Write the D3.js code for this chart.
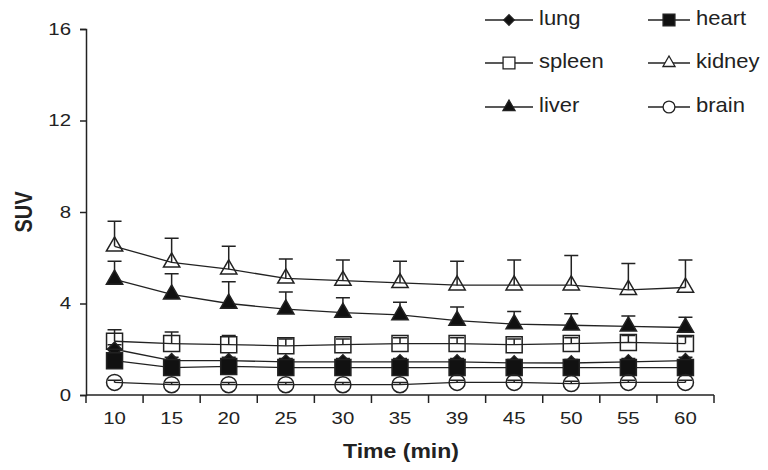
<!DOCTYPE html>
<html>
<head>
<meta charset="utf-8">
<script src="https://cdn.jsdelivr.net/npm/d3@7"></script>
<style>
body { margin: 0; background: #fff; }
text { font-family: "Liberation Sans", Arial, sans-serif; fill: #222; }
</style>
</head>
<body>
<script>
// time points (categorical x axis)
var times = ["10", "15", "20", "25", "30", "35", "39", "45", "50", "55", "60"];
var yTicks = [0, 4, 8, 12, 16];

// mean SUV per organ
var lung   = [2.0, 1.5, 1.5, 1.45, 1.45, 1.45, 1.45, 1.4, 1.4, 1.45, 1.5];
var heart  = [1.5, 1.2, 1.25, 1.2, 1.2, 1.2, 1.2, 1.2, 1.2, 1.2, 1.2];
var spleen = [2.35, 2.25, 2.2, 2.15, 2.2, 2.25, 2.25, 2.2, 2.25, 2.3, 2.25];
var kidney = [6.5, 5.8, 5.5, 5.1, 5.0, 4.9, 4.8, 4.8, 4.8, 4.6, 4.7];
var liver  = [5.05, 4.4, 4.0, 3.75, 3.6, 3.5, 3.25, 3.1, 3.05, 3.0, 2.95];
var brain  = [0.55, 0.45, 0.45, 0.45, 0.45, 0.45, 0.55, 0.55, 0.5, 0.55, 0.55];

// upper error (SD)
var lungErr   = [0.2, 0.15, 0.15, 0.15, 0.15, 0.15, 0.15, 0.15, 0.15, 0.15, 0.15];
var heartErr  = [0.15, 0.15, 0.15, 0.15, 0.15, 0.15, 0.15, 0.15, 0.15, 0.15, 0.15];
var spleenErr = [0.5, 0.5, 0.4, 0.3, 0.25, 0.25, 0.25, 0.25, 0.25, 0.3, 0.3];
var kidneyErr = [1.1, 1.05, 1.0, 0.85, 0.9, 0.95, 1.05, 1.1, 1.3, 1.15, 1.2];
var liverErr  = [0.8, 0.9, 0.95, 0.75, 0.65, 0.55, 0.6, 0.55, 0.5, 0.45, 0.45];
var brainErr  = [0.1, 0.1, 0.1, 0.1, 0.1, 0.1, 0.1, 0.1, 0.1, 0.1, 0.1];

var series = [
    {name: "lung",   vals: lung,   err: lungErr,   shape: d3.symbolSquare,   size: 100, rot: 45, filled: true},
    {name: "heart",  vals: heart,  err: heartErr,  shape: d3.symbolSquare,   size: 256, rot: 0,  filled: true},
    {name: "spleen", vals: spleen, err: spleenErr, shape: d3.symbolSquare,   size: 256, rot: 0,  filled: false},
    {name: "kidney", vals: kidney, err: kidneyErr, shape: d3.symbolTriangle, size: 115, rot: 0,  filled: false},
    {name: "liver",  vals: liver,  err: liverErr,  shape: d3.symbolTriangle, size: 115, rot: 0,  filled: true},
    {name: "brain",  vals: brain,  err: brainErr,  shape: d3.symbolCircle,   size: 200, rot: 0,  filled: false}
];

var width = 768,
    height = 470;

var svg = d3.select("body").append("svg")
    .attr("width", width)
    .attr("height", height);

var x = d3.scaleBand().domain(times).range([86, 714]);
var y = d3.scaleLinear().domain([0, 16]).range([395, 29]);

// y axis
var yAxis = svg.append("g")
    .attr("transform", "translate(86,0)")
    .call(d3.axisLeft(y).tickValues(yTicks).tickSize(6).tickPadding(9));
yAxis.select(".domain").attr("stroke", "#222").attr("stroke-width", 1.5);
yAxis.selectAll(".tick line").attr("stroke", "#222").attr("stroke-width", 1.5);
yAxis.selectAll("text")
    .style("font-size", "17px")
    .attr("x", -15 / 1.2)
    .attr("transform", "scale(1.2,1)");

// x axis: labels at band centres, ticks at band edges
var xAxis = svg.append("g")
    .attr("transform", "translate(0,395)")
    .call(d3.axisBottom(x).tickSize(0).tickPadding(17));
xAxis.select(".domain").remove();
xAxis.selectAll("text")
    .style("font-size", "17px")
    .attr("transform", "scale(1.2,1)");

var edges = times.map(function (t) { return x(t); }).concat([x.range()[1]]);
svg.append("line")
    .attr("x1", x.range()[0]).attr("x2", x.range()[1])
    .attr("y1", 395).attr("y2", 395)
    .attr("stroke", "#222").attr("stroke-width", 1.5);
svg.selectAll(".xtick").data(edges).enter().append("line")
    .attr("class", "xtick")
    .attr("x1", function (d) { return d; }).attr("x2", function (d) { return d; })
    .attr("y1", 395).attr("y2", 403)
    .attr("stroke", "#222").attr("stroke-width", 1.5);

// axis titles
svg.append("text")
    .attr("transform", "translate(401,453) scale(1.15,1)")
    .attr("text-anchor", "middle")
    .attr("dominant-baseline", "middle")
    .style("font-size", "20px")
    .style("font-weight", "bold")
    .text("Time (min)");

svg.append("text")
    .attr("transform", "translate(26,212) rotate(-90) scale(1,1.2)")
    .attr("text-anchor", "middle")
    .attr("dominant-baseline", "middle")
    .style("font-size", "20px")
    .style("font-weight", "bold")
    .text("SUV");

var cx = function (i) { return x(times[i]) + x.bandwidth() / 2; };

var line = d3.line()
    .x(function (d, i) { return cx(i); })
    .y(function (d) { return y(d); });

series.forEach(function (s) {
    var g = svg.append("g").attr("class", "series " + s.name);

    g.append("path")
        .attr("d", line(s.vals))
        .attr("fill", "none")
        .attr("stroke", "#222")
        .attr("stroke-width", 1.3);

    // upper error bars
    g.selectAll(".err").data(s.vals).enter().append("path")
        .attr("class", "err")
        .attr("d", function (d, i) {
            var px = cx(i), top = y(d + s.err[i]);
            return "M" + px + "," + y(d) + "V" + top + "M" + (px - 7) + "," + top + "H" + (px + 7);
        })
        .attr("fill", "none")
        .attr("stroke", "#222")
        .attr("stroke-width", 1.5);

    g.selectAll(".mark").data(s.vals).enter().append("path")
        .attr("class", "mark")
        .attr("transform", function (d, i) {
            return "translate(" + cx(i) + "," + y(d) + ") rotate(" + s.rot + ")";
        })
        .attr("d", d3.symbol().type(s.shape).size(s.size))
        .attr("fill", s.filled ? "#111" : "none")
        .attr("stroke", "#222")
        .attr("stroke-width", 1.5);
});

// legend
var legendPos = [
    {lx: 485, ly: 20}, {lx: 648, ly: 20},
    {lx: 485, ly: 63}, {lx: 648, ly: 63},
    {lx: 485, ly: 107}, {lx: 648, ly: 107}
];

series.forEach(function (s, i) {
    var p = legendPos[i];
    var lw = i % 2 === 0 ? 48 : 42;
    var lg = svg.append("g").attr("transform", "translate(" + p.lx + "," + p.ly + ")");
    lg.append("line")
        .attr("x1", 0).attr("x2", lw)
        .attr("stroke", "#222").attr("stroke-width", 1.5);
    lg.append("path")
        .attr("transform", "translate(" + lw / 2 + ",0) rotate(" + s.rot + ")")
        .attr("d", d3.symbol().type(s.shape).size(s.size * 0.55))
        .attr("fill", s.filled ? "#111" : "#fff")
        .attr("stroke", "#222")
        .attr("stroke-width", 1.3);
    lg.append("text")
        .attr("transform", "translate(" + (lw + 6) + ",0) scale(1.1,1)")
        .attr("dominant-baseline", "middle")
        .style("font-size", "20px")
        .text(s.name);
});
</script>
</body>
</html>
